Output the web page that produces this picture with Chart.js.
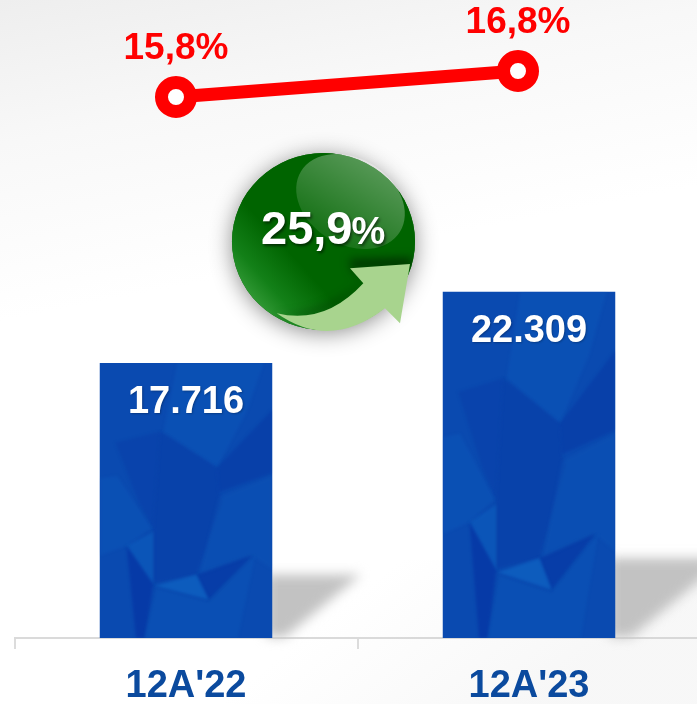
<!DOCTYPE html>
<html><head><meta charset="utf-8">
<style>html,body{margin:0;padding:0;overflow:hidden;background:#fff;width:697px;height:704px}canvas{display:block}</style>
<script src="https://cdn.jsdelivr.net/npm/chart.js@4"></script>
</head><body><canvas id="c" width="702" height="704"></canvas>
<script>
const categories = ["12A'22", "12A'23"];
const barValues = [17716, 22309];
const barLabels = ["17.716", "22.309"];
const lineValues = [15.8, 16.8];
const lineLabels = ["15,8%", "16,8%"];
const growthValue = "25,9";
const growthUnit = "%";

const FONT = '"Liberation Sans", Arial, sans-serif';

// Texture facets in bar-relative units (u across, v down)
const facets = [
 ['rgba(12,92,190,.32)', [[.37,.25],[.68,.38],[.85,.18],[.95,0],[.45,0]]],
 ['rgba(6,50,160,.32)',  [[.35,.25],[.68,.38],[.69,.47],[.71,.50],[.56,.77],[.31,.80],[.31,.6]]],
 ['rgba(6,50,160,.4)',   [[.68,.38],[1,.17],[1,.40],[.69,.47]]],
 ['rgba(12,90,185,.3)',  [[.69,.49],[1,.41],[1,.75],[.88,.70],[.58,.77]]],
 ['rgba(4,48,160,.5)',   [[.56,.77],[.88,.70],[.63,.86]]],
 ['rgba(14,100,195,.7)', [[.32,.81],[.56,.77],[.63,.86]]],
 ['rgba(14,100,195,.45)',[[.155,.665],[.31,.615],[.31,.805]]],
 ['rgba(4,46,160,.55)',  [[.155,.665],[.31,.805],[.26,1],[.21,1]]],
 ['rgba(6,52,160,.28)',  [[.09,.29],[.35,.25],[.31,.6],[.23,.51]]],
 ['rgba(12,92,190,.32)', [[0,.42],[.1,.41],[.30,.60],[.155,.665],[0,.70]]],
 ['rgba(12,92,190,.28)', [[.33,.82],[.63,.87],[.9,.7],[.8,1],[.26,1]]]
];

const backdrop = {
  id: 'backdrop',
  beforeDraw(chart) {
    const { ctx, width, height } = chart;
    ctx.save();
    const g = ctx.createLinearGradient(0, 0, 60, 310);
    g.addColorStop(0, '#eeeeee');
    g.addColorStop(.45, '#f8f8f8');
    g.addColorStop(1, '#ffffff');
    ctx.fillStyle = g;
    ctx.fillRect(0, 0, width, height);
    const b = ctx.createLinearGradient(400, 560, 520, 710);
    b.addColorStop(0, 'rgba(240,240,240,0)');
    b.addColorStop(1, 'rgba(240,240,240,.5)');
    ctx.fillStyle = b;
    ctx.fillRect(0, 560, width, height - 560);
    ctx.restore();
  }
};

function isBarMeta(m) { return m.type === 'bar'; }

const barDecor = {
  id: 'barDecor',
  beforeDatasetsDraw(chart) {
    const { ctx } = chart;
    const meta = chart.getSortedVisibleDatasetMetas().find(isBarMeta);
    ctx.save();
    ctx.filter = 'blur(6px)';
    ctx.fillStyle = '#c2c2c2';
    meta.data.forEach(el => {
      const r = el.x + el.width / 2;
      const h = (el.base - el.y) * 0.23;
      ctx.beginPath();
      ctx.moveTo(r - 6, el.base - 1);
      ctx.lineTo(r - 6, el.base - h);
      ctx.lineTo(r + h * 1.4, el.base - h);
      ctx.lineTo(r + h * .2, el.base - 1);
      ctx.closePath();
      ctx.fill();
    });
    ctx.restore();
  },
  afterDatasetDraw(chart, args) {
    if (!isBarMeta(args.meta)) return;
    const { ctx } = chart;
    args.meta.data.forEach(el => {
      const l = el.x - el.width / 2, t = el.y, w = el.width, h = el.base - el.y;
      ctx.save();
      ctx.beginPath();
      ctx.rect(l, t, w, h);
      ctx.clip();
      ctx.filter = 'blur(1.5px)';
      facets.forEach(([col, pts]) => {
        ctx.fillStyle = col;
        ctx.beginPath();
        pts.forEach(([u, v], i) => {
          const x = l + u * w, y = t + v * h;
          i ? ctx.lineTo(x, y) : ctx.moveTo(x, y);
        });
        ctx.closePath();
        ctx.fill();
      });
      ctx.restore();
    });
  },
  afterDatasetsDraw(chart) {
    const { ctx } = chart;
    const metas = chart.getSortedVisibleDatasetMetas();
    const bars = metas.find(isBarMeta), line = metas.find(m => m.type === 'line');
    ctx.save();
    ctx.textAlign = 'center';
    ctx.textBaseline = 'alphabetic';
    ctx.font = 'bold 38px ' + FONT;
    ctx.shadowColor = 'rgba(0,0,0,.25)';
    ctx.shadowBlur = 2;
    ctx.shadowOffsetX = 1; ctx.shadowOffsetY = 1;
    ctx.fillStyle = '#ffffff';
    bars.data.forEach((el, i) => ctx.fillText(barLabels[i], el.x, el.y + 50));
    ctx.shadowColor = 'transparent';
    ctx.fillStyle = '#ff0000';
    ctx.font = 'bold 37px ' + FONT;
    line.data.forEach((el, i) => ctx.fillText(lineLabels[i], el.x, el.y - 38));
    ctx.restore();
    drawBadge(ctx, 323.5, 241.5);
  }
};

function drawBadge(ctx, cx, cy) {
  const RX = 91.5, RY = 88.5;
  const body = () => { ctx.beginPath(); ctx.ellipse(cx, cy, RX, RY, 0, 0, Math.PI * 2); };
  ctx.save();
  // soft halo
  ctx.save();
  ctx.shadowColor = 'rgba(0,0,0,.45)';
  ctx.shadowBlur = 22;
  ctx.shadowOffsetY = 3;
  ctx.fillStyle = '#006400';
  body(); ctx.fill();
  ctx.restore();
  // body
  const g = ctx.createLinearGradient(cx - 85, cy + 65, cx - 30, cy + 15);
  g.addColorStop(0, '#45a948');
  g.addColorStop(.5, '#138018');
  g.addColorStop(1, '#006400');
  ctx.fillStyle = g;
  body(); ctx.fill();
  // dark fold above arrow
  ctx.save();
  body(); ctx.clip();
  ctx.filter = 'blur(5px)';
  ctx.fillStyle = 'rgba(0,35,0,.8)';
  ctx.beginPath();
  ctx.moveTo(276, 316);
  ctx.quadraticCurveTo(325, 316, 363, 282);
  ctx.lineTo(348, 260);
  ctx.lineTo(412, 258);
  ctx.lineTo(412, 268);
  ctx.lineTo(350, 268);
  ctx.lineTo(363, 283);
  ctx.quadraticCurveTo(325, 322, 276, 316);
  ctx.closePath();
  ctx.fill();
  ctx.restore();
  // gloss
  ctx.save();
  ctx.translate(cx + 27, cy - 40);
  ctx.rotate(0.55);
  const gl = ctx.createLinearGradient(0, -45, 0, 45);
  gl.addColorStop(0, 'rgba(255,255,255,.34)');
  gl.addColorStop(1, 'rgba(255,255,255,.08)');
  ctx.fillStyle = gl;
  ctx.beginPath(); ctx.ellipse(0, 0, 58, 43, 0, 0, Math.PI * 2); ctx.fill();
  ctx.restore();
  // arrow
  ctx.fillStyle = '#a8d48e';
  ctx.beginPath();
  ctx.moveTo(276.7, 313.3);
  ctx.quadraticCurveTo(330, 351, 385, 308.3);
  ctx.lineTo(400, 323.3);
  ctx.lineTo(410, 264);
  ctx.lineTo(350, 268.3);
  ctx.lineTo(363.3, 283.3);
  ctx.quadraticCurveTo(325, 325, 276.7, 313.3);
  ctx.closePath();
  ctx.fill();
  // value
  ctx.shadowColor = 'rgba(0,0,0,.55)';
  ctx.shadowBlur = 3;
  ctx.shadowOffsetX = 1.5; ctx.shadowOffsetY = 1.5;
  ctx.fillStyle = '#ffffff';
  ctx.textBaseline = 'alphabetic';
  ctx.textAlign = 'left';
  ctx.font = 'bold 47px ' + FONT;
  ctx.fillText(growthValue, 261, 244);
  const w = ctx.measureText(growthValue).width;
  ctx.font = 'bold 38px ' + FONT;
  ctx.fillText(growthUnit, 261 + w - 1, 244);
  ctx.restore();
}

new Chart(document.getElementById('c'), {
  data: {
    labels: categories,
    datasets: [
      {
        type: 'line', order: 0, xAxisID: 'xLine', yAxisID: 'yLine',
        data: lineValues.map((y, i) => ({ x: i, y })),
        borderColor: '#ff0000', borderWidth: 13,
        pointRadius: 14.5, pointBorderWidth: 13,
        pointBackgroundColor: '#ffffff', pointBorderColor: '#ff0000',
        tension: 0, clip: false
      },
      {
        type: 'bar', order: 1, xAxisID: 'x', yAxisID: 'y',
        data: barValues,
        backgroundColor: '#0a4ab0',
        grouped: false,
        barPercentage: 172.5 / 343, categoryPercentage: 1
      }
    ]
  },
  options: {
    responsive: false,
    animation: false,
    layout: { autoPadding: false, padding: { left: 14.5, right: 1.5, top: 0, bottom: 0 } },
    plugins: { legend: { display: false }, tooltip: { enabled: false } },
    scales: {
      x: {
        type: 'category', position: 'bottom', z: 1,
        afterFit(s) { s.height = 66; s.paddingLeft = 0; s.paddingRight = 0; },
        grid: { offset: true, drawOnChartArea: false, drawTicks: true, tickLength: 11, color: '#dcdcdc', lineWidth: 2 },
        border: { display: true, color: 'rgba(205,205,205,.75)', width: 2 },
        ticks: { color: '#0b4a9e', padding: 15, font: { family: FONT, size: 38, weight: 'bold' }, maxRotation: 0 }
      },
      y: { display: false, min: 0, max: 41100 },
      xLine: { type: 'linear', display: false, position: 'bottom', min: -0.4722, max: 1.5336 },
      yLine: { display: false, min: -5.008, max: 19.53 }
    }
  },
  plugins: [backdrop, barDecor]
});
</script></body></html>
